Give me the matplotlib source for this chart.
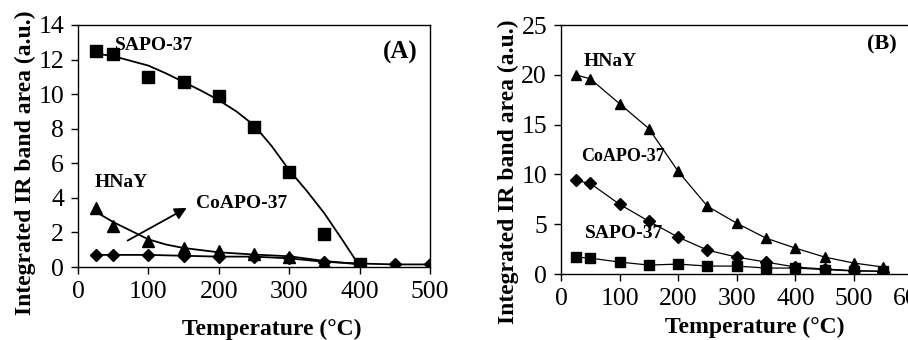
import numpy as np
import matplotlib
matplotlib.use("Agg")
from matplotlib import pyplot as plt

# ---- panel A data
temp_a = [25, 50, 100, 150, 200, 250, 300, 350, 400]
sapo_a = [12.5, 12.3, 11.0, 10.7, 9.9, 8.1, 5.5, 1.9, 0.2]
hnay_a = [3.4, 2.4, 1.5, 1.1, 0.9, 0.75, 0.6, 0.3, 0.2]
temp_co_a = [25, 50, 100, 150, 200, 250, 300, 350, 400, 450, 500]
coapo_a = [0.7, 0.7, 0.7, 0.65, 0.6, 0.6, 0.5, 0.3, 0.2, 0.15, 0.15]

# fitted curves
fit_x_sapo = [25, 50, 100, 125, 150, 175, 200, 225, 250, 275, 300, 325, 350, 375, 400]
fit_y_sapo = [12.35, 12.2, 11.65, 11.2, 10.7, 10.2, 9.65, 9.0, 8.2, 7.0, 5.6, 4.4, 3.1, 1.6, 0.05]
fit_x_hnay = [25, 50, 75, 100, 125, 150, 200, 250, 300, 350, 400]
fit_y_hnay = [3.2, 2.6, 2.1, 1.6, 1.3, 1.1, 0.85, 0.72, 0.62, 0.35, 0.15]

# ---- panel B data
temp_b = [25, 50, 100, 150, 200, 250, 300, 350, 400, 450, 500, 550]
hnay_b = [20.0, 19.6, 17.1, 14.6, 10.3, 6.8, 5.1, 3.6, 2.6, 1.7, 1.1, 0.7]
coapo_b = [9.4, 9.1, 7.0, 5.3, 3.7, 2.4, 1.7, 1.2, 0.7, 0.5, 0.35, 0.25]
sapo_b = [1.7, 1.6, 1.2, 0.9, 1.0, 0.8, 0.8, 0.6, 0.6, 0.45, 0.3, 0.3]

plt.rcParams['font.family'] = ['Liberation Serif', 'DejaVu Serif']

fig = plt.figure(figsize=(9.08, 3.4), dpi=100)
ax1 = fig.add_axes([0.0859, 0.2147, 0.3877, 0.7118])
ax2 = fig.add_axes([0.6178, 0.194, 0.3873, 0.7324])

tick_fs = 18.5
ann_fs = 14

for ax in (ax1, ax2):
    ax.tick_params(direction='out', length=5, width=1, labelsize=tick_fs, pad=5)
    for s in ax.spines.values():
        s.set_linewidth(1.0)
    ax.set_xlabel('Temperature (\u00b0C)', fontsize=17, fontweight='bold')
    ax.set_ylabel('Integrated IR band area (a.u.)', fontsize=17, fontweight='bold')

ax1.xaxis.set_label_coords(0.551, -0.215)
ax1.yaxis.set_label_coords(-0.12, 0.43)
ax2.xaxis.set_label_coords(0.552, -0.172)
ax2.yaxis.set_label_coords(-0.119, 0.41)

# panel A
ax1.plot(fit_x_sapo, fit_y_sapo, 'k-', lw=1.3)
ax1.plot(fit_x_hnay, fit_y_hnay, 'k-', lw=1.3)
ax1.plot(temp_co_a, coapo_a, 'k-', lw=1.3)
ax1.plot(temp_a, sapo_a, 'ks', ms=8, lw=0)
ax1.plot(temp_a, hnay_a, 'k^', ms=8.5, lw=0)
ax1.plot(temp_co_a, coapo_a, 'kD', ms=6, lw=0)
ax1.set_xlim(0, 500)
ax1.set_ylim(0, 14)
ax1.set_xticks(np.arange(0, 501, 100))
ax1.set_yticks(np.arange(0, 15, 2))
ax1.text(53, 12.8, 'SAPO-37', fontsize=ann_fs, fontweight='bold', va='center')
ax1.text(24, 4.9, 'HNaY', fontsize=ann_fs, fontweight='bold', va='center')
ax1.text(167, 3.7, 'CoAPO-37', fontsize=ann_fs, fontweight='bold', va='center')
ax1.annotate('', xy=(158, 3.5), xytext=(67, 1.45),
             arrowprops=dict(arrowstyle='-|>', color='k', lw=1.3, mutation_scale=18))
ax1.text(457, 12.4, '(A)', fontsize=18, fontweight='bold', ha='center', va='center')

# panel B
ax2.plot(temp_b, hnay_b, 'k-', lw=0.9)
ax2.plot(temp_b, coapo_b, 'k-', lw=0.9)
ax2.plot(temp_b, sapo_b, 'k-', lw=0.9)
ax2.plot(temp_b, hnay_b, 'k^', ms=7.5, lw=0)
ax2.plot(temp_b, coapo_b, 'kD', ms=6, lw=0)
ax2.plot(temp_b, sapo_b, 'ks', ms=7, lw=0)
ax2.set_xlim(0, 600)
ax2.set_ylim(0, 25)
ax2.set_xticks(np.arange(0, 601, 100))
ax2.set_yticks(np.arange(0, 26, 5))
ax2.text(39, 21.3, 'HNaY', fontsize=ann_fs, fontweight='bold', va='center')
ax2.text(34, 11.8, 'CoAPO-37', fontsize=13, fontweight='bold', va='center')
ax2.text(41, 4.1, 'SAPO-37', fontsize=ann_fs, fontweight='bold', va='center')
ax2.text(548, 23, '(B)', fontsize=16, fontweight='bold', ha='center', va='center')

fig.savefig('out.png', dpi=100)
